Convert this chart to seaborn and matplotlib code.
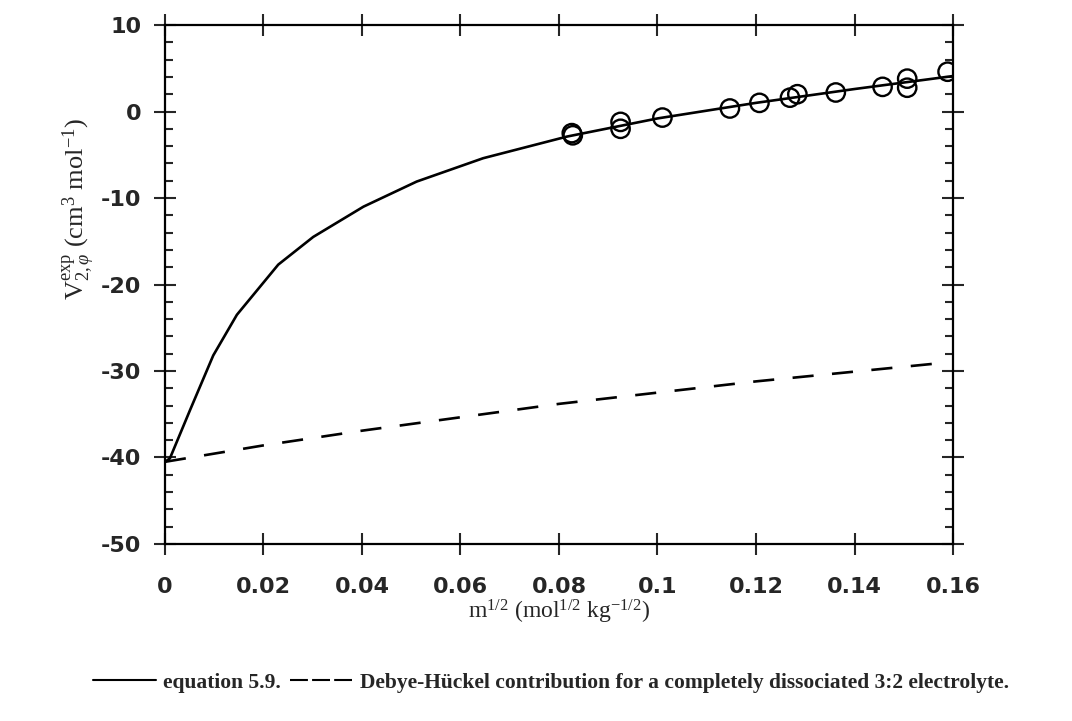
import numpy as np
import pandas as pd
import matplotlib
matplotlib.use("Agg")
import matplotlib.pyplot as plt
from matplotlib.ticker import MultipleLocator, FixedLocator
import seaborn as sns

# ---- data ----
exp_x = [0.0826, 0.0828, 0.0925, 0.0925, 0.1010, 0.1147, 0.1207, 0.1269, 0.1284,
         0.1362, 0.1457, 0.1507, 0.1507, 0.1589]
exp_y = [-2.5, -2.75, -1.2, -2.0, -0.7, 0.35, 1.0, 1.6, 2.0,
         2.2, 2.85, 3.8, 2.75, 4.6]

eq_x = [0.0, 0.001, 0.0051, 0.0098, 0.0146, 0.023, 0.0301, 0.0403, 0.0511,
        0.0646, 0.0816, 0.10, 0.12, 0.14, 0.16]
eq_y = [-40.5, -40.1, -34.5, -28.2, -23.5, -17.7, -14.5, -11.0, -8.1,
        -5.4, -2.9, -0.8, 1.0, 2.6, 4.1]

dh_x = [0.0, 0.02, 0.04, 0.08, 0.12, 0.159]
dh_y = [-40.5, -38.6, -36.9, -33.8, -31.2, -29.0]

x_ticks = [0, 0.02, 0.04, 0.06, 0.08, 0.1, 0.12, 0.14, 0.16]
x_ticklabels = ["0", "0.02", "0.04", "0.06", "0.08", "0.1", "0.12", "0.14", "0.16"]
y_ticks = [10, 0, -10, -20, -30, -40, -50]
y_ticklabels = ["10", "0", "-10", "-20", "-30", "-40", "-50"]

sns.set_style("ticks")
plt.rcParams["font.family"] = ["DejaVu Sans"]
plt.rcParams["axes.unicode_minus"] = False
plt.rcParams["mathtext.fontset"] = "custom"
plt.rcParams["mathtext.rm"] = "Liberation Serif"
plt.rcParams["mathtext.it"] = "Liberation Serif:italic"
plt.rcParams["mathtext.bf"] = "Liberation Serif:bold"

fig = plt.figure(figsize=(10.72, 7.21), dpi=100)
ax = fig.add_axes([0.1539, 0.2455, 0.889 - 0.1539, 0.9653 - 0.2455])

eq_df = pd.DataFrame({"x": eq_x, "y": eq_y})
dh_df = pd.DataFrame({"x": dh_x, "y": dh_y})
exp_df = pd.DataFrame({"x": exp_x, "y": exp_y})

sns.lineplot(data=eq_df, x="x", y="y", ax=ax, color="black", linewidth=1.9,
             sort=False, label="equation 5.9.")
sns.lineplot(data=dh_df, x="x", y="y", ax=ax, color="black", linewidth=1.9,
             sort=False, label="Debye-H\u00fcckel contribution for a completely dissociated 3:2 electrolyte.")
ax.lines[-1].set_dashes([8, 7])
sns.scatterplot(data=exp_df, x="x", y="y", ax=ax, marker="o", s=175,
                facecolor="none", edgecolor="black", linewidth=1.7, zorder=5)

ax.set_xlim(0, 0.16)
ax.set_ylim(-50, 10)
ax.xaxis.set_major_locator(FixedLocator(x_ticks))
ax.set_xticklabels(x_ticklabels)
ax.yaxis.set_major_locator(FixedLocator(y_ticks))
ax.set_yticklabels(y_ticklabels)
ax.yaxis.set_minor_locator(MultipleLocator(2))

for s in ax.spines.values():
    s.set_visible(True)
    s.set_linewidth(1.6)
    s.set_color("black")

ax.tick_params(axis="both", which="major", direction="inout", length=16, width=1.5,
               top=True, right=True, labelsize=16)
ax.tick_params(axis="x", which="major", pad=16)
ax.tick_params(axis="y", which="major", pad=9)
ax.tick_params(axis="y", which="minor", direction="in", length=6, width=1.5,
               left=True, right=True)
for lab in ax.get_xticklabels() + ax.get_yticklabels():
    lab.set_fontweight("bold")

ax.set_xlabel("")
ax.set_ylabel("")
ax.get_legend().remove()

fig.text(0.522, 0.152, r"m$^{1/2}$ (mol$^{1/2}$ kg$^{-1/2}$)", ha="center", va="center",
         fontsize=17, family="Liberation Serif")
fig.text(0.073, 0.71, r"V$_{2,\varphi}^{\rm exp}$ (cm$^3$ mol$^{-1}$)", ha="center", va="center",
         rotation=90, fontsize=19, family="Liberation Serif")

handles, labels = ax.get_legend_handles_labels()
leg = fig.legend(handles[:2], labels[:2], loc="center", bbox_to_anchor=(0.514, 0.053),
                 ncol=2, frameon=False, handlelength=2.9, handletextpad=0.35,
                 columnspacing=0.4, prop={"family": "Liberation Serif", "weight": "bold", "size": 15.5})
leg_lines = leg.get_lines()
for l in leg_lines:
    l.set_linewidth(1.5)
leg_lines[1].set_dashes([8.6, 2])

fig.savefig("out.png", dpi=100, facecolor="white")
